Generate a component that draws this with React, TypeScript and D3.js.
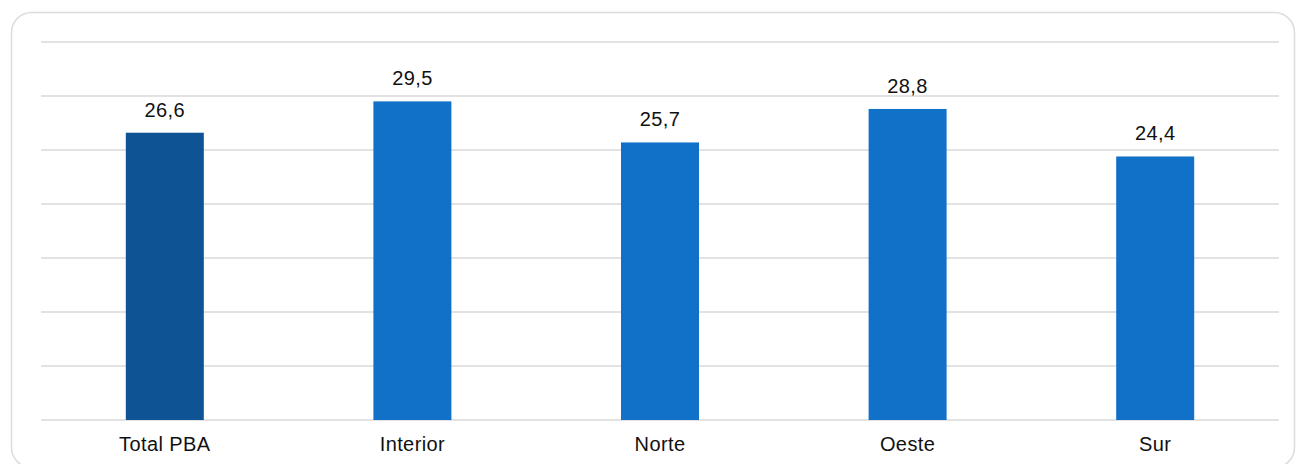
import React from "react";
import * as d3 from "d3";

const categories = ["Total PBA", "Interior", "Norte", "Oeste", "Sur"];
const values = [26.6, 29.5, 25.7, 28.8, 24.4];
const barColors = ["#0e5394", "#1170c7", "#1170c7", "#1170c7", "#1170c7"];
const gridTicks = [0, 5, 10, 15, 20, 25, 30, 35];

const W = 1296;
const H = 464;
const plot = { left: 41, right: 1279, top: 42, bottom: 420 };

export default function App() {
  const x = d3
    .scaleBand<string>()
    .domain(categories)
    .range([plot.left, plot.right])
    .paddingInner(0.685)
    .paddingOuter(0.3425);
  const y = d3.scaleLinear().domain([0, 35]).range([plot.bottom, plot.top]);
  const fmt = (v: number) => d3.format(".1f")(v).replace(".", ",");
  const font = "'Liberation Sans', Arial, sans-serif";

  return (
    <svg
      width={W}
      height={H}
      style={{ position: "absolute", left: 0, top: 0, background: "#fff" }}
    >
      <rect
        x={11.5}
        y={12.5}
        width={1283}
        height={455}
        rx={20}
        ry={20}
        fill="#fff"
        stroke="#dcdcdc"
        strokeWidth={1.5}
      />
      {gridTicks.map((t) => (
        <line
          key={t}
          x1={plot.left}
          x2={plot.right}
          y1={y(t)}
          y2={y(t)}
          stroke="#d9d9d9"
          strokeWidth={1.5}
        />
      ))}
      {categories.map((c, i) => {
        const bx = x(c)!;
        const bw = x.bandwidth();
        const cx = bx + bw / 2;
        return (
          <g key={c}>
            <rect
              x={bx}
              y={y(values[i])}
              width={bw}
              height={y(0) - y(values[i])}
              fill={barColors[i]}
            />
            <text
              x={cx}
              y={y(values[i]) - 16}
              textAnchor="middle"
              fontFamily={font}
              fontSize={20}
              letterSpacing={0.4}
              fill="#111"
            >
              {fmt(values[i])}
            </text>
            <text
              x={cx}
              y={plot.bottom + 31}
              textAnchor="middle"
              fontFamily={font}
              fontSize={20}
              letterSpacing={0.4}
              fill="#111"
            >
              {c}
            </text>
          </g>
        );
      })}
    </svg>
  );
}
